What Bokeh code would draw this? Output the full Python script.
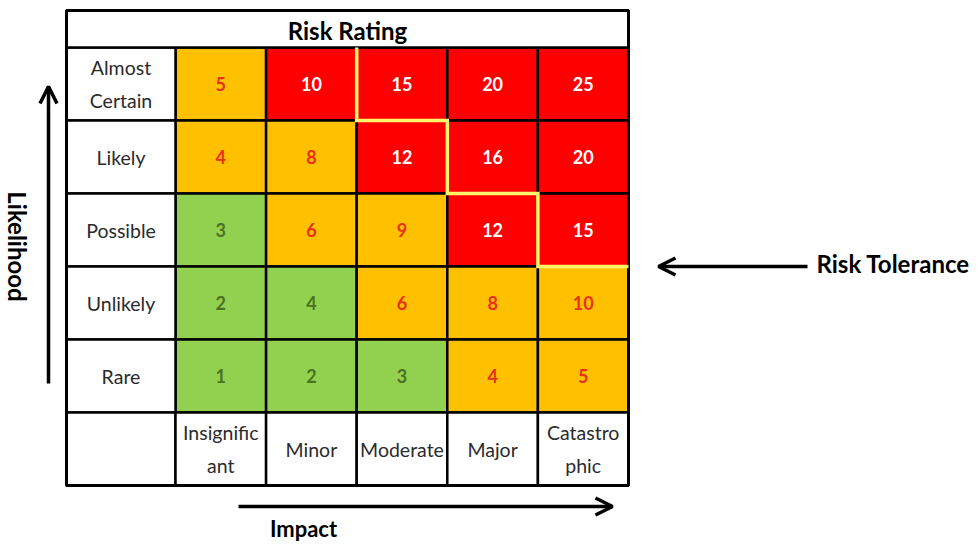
import math
from bokeh.plotting import figure
from bokeh.models import Range1d, ColumnDataSource, Arrow, OpenHead
from bokeh.core.properties import value
from bokeh.embed import file_html
from bokeh.resources import INLINE

# ---- data ---------------------------------------------------------------
likelihood = ["Almost\nCertain", "Likely", "Possible", "Unlikely", "Rare"]
impact = ["Insignific\nant", "Minor", "Moderate", "Major", "Catastro\nphic"]
ratings = [
    [5, 10, 15, 20, 25],
    [4, 8, 12, 16, 20],
    [3, 6, 9, 12, 15],
    [2, 4, 6, 8, 10],
    [1, 2, 3, 4, 5],
]
levels = [
    ["Medium", "High", "High", "High", "High"],
    ["Medium", "Medium", "High", "High", "High"],
    ["Low", "Medium", "Medium", "High", "High"],
    ["Low", "Low", "Medium", "Medium", "Medium"],
    ["Low", "Low", "Low", "Medium", "Medium"],
]
# number of likelihood rows above the tolerance line, per impact column
tolerance_rows = [0, 0, 1, 2, 3]

# ---- styling ------------------------------------------------------------
FILL = {"Low": "#92D050", "Medium": "#FFC000", "High": "#FF0000"}
INK = {"Low": "#4A7320", "Medium": "#E8311A", "High": "#FFFFFF"}
FONT = value("Lato")
LABEL_INK = "#2B2B2B"

# table geometry (screen pixels)
TABLE_L, LABEL_W, CELL_W = 66, 109, 90.6
TABLE_T, TITLE_H, ROW_H = 10, 37, 73
GRID_L = TABLE_L + LABEL_W
GRID_T = TABLE_T + TITLE_H
n_rows, n_cols = len(likelihood), len(impact)
TABLE_R = GRID_L + n_cols * CELL_W
TABLE_B = GRID_T + (n_rows + 1) * ROW_H

W, H = 978, 544
p = figure(width=W, height=H, output_backend="svg", toolbar_location=None,
           x_range=Range1d(0, W), y_range=Range1d(H, 0),
           min_border=0, outline_line_color=None)
p.axis.visible = False
p.grid.visible = False
p.background_fill_color = "white"
p.border_fill_color = "white"

# rating cells
cells = dict(left=[], right=[], top=[], bottom=[], fill=[], ink=[], x=[], y=[], txt=[])
for i in range(n_rows):
    for j in range(n_cols):
        l = GRID_L + j * CELL_W
        t = GRID_T + i * ROW_H
        cells["left"].append(l)
        cells["right"].append(l + CELL_W)
        cells["top"].append(t)
        cells["bottom"].append(t + ROW_H)
        cells["fill"].append(FILL[levels[i][j]])
        cells["ink"].append(INK[levels[i][j]])
        cells["x"].append(l + CELL_W / 2)
        cells["y"].append(t + ROW_H / 2)
        cells["txt"].append(str(ratings[i][j]))
cs = ColumnDataSource(cells)
p.quad(left="left", right="right", top="top", bottom="bottom", source=cs,
       fill_color="fill", line_color="black", line_width=2.5)
p.text(x="x", y="y", text="txt", source=cs, text_color="ink",
       text_font=FONT, text_font_style="bold", text_font_size="18px",
       text_align="center", text_baseline="middle")

# white header cells: likelihood labels (left), impact labels (bottom)
lab = dict(left=[], right=[], top=[], bottom=[], x=[], y=[], txt=[])
for i, name in enumerate(likelihood):
    t = GRID_T + i * ROW_H
    lab["left"].append(TABLE_L); lab["right"].append(GRID_L)
    lab["top"].append(t); lab["bottom"].append(t + ROW_H)
    lab["x"].append((TABLE_L + GRID_L) / 2); lab["y"].append(t + ROW_H / 2)
    lab["txt"].append(name)
bt = GRID_T + n_rows * ROW_H
lab["left"].append(TABLE_L); lab["right"].append(GRID_L)
lab["top"].append(bt); lab["bottom"].append(bt + ROW_H)
lab["x"].append((TABLE_L + GRID_L) / 2); lab["y"].append(bt + ROW_H / 2)
lab["txt"].append("")
for j, name in enumerate(impact):
    l = GRID_L + j * CELL_W
    lab["left"].append(l); lab["right"].append(l + CELL_W)
    lab["top"].append(bt); lab["bottom"].append(bt + ROW_H)
    lab["x"].append(l + CELL_W / 2); lab["y"].append(bt + ROW_H / 2)
    lab["txt"].append(name)
ls = ColumnDataSource(lab)
p.quad(left="left", right="right", top="top", bottom="bottom", source=ls,
       fill_color="white", line_color="black", line_width=2.5)
p.text(x="x", y="y", text="txt", source=ls, text_color=LABEL_INK,
       text_font=FONT, text_font_size="19.5px", text_line_height=1.42,
       text_align="center", text_baseline="middle")

# title row
p.quad(left=[TABLE_L], right=[TABLE_R], top=[TABLE_T], bottom=[GRID_T],
       fill_color="white", line_color="black", line_width=2.5)
p.text(x=[(TABLE_L + TABLE_R) / 2], y=[TABLE_T + TITLE_H / 2 + 1], text=["Risk Rating"],
       text_color="black", text_font=FONT, text_font_style="bold",
       text_font_size="24px", text_align="center", text_baseline="middle")

# outer frame
p.quad(left=[TABLE_L], right=[TABLE_R], top=[TABLE_T], bottom=[TABLE_B],
       fill_color=None, line_color="black", line_width=3)

# tolerance staircase
first = next(j for j, r in enumerate(tolerance_rows) if r > 0)
xs = [GRID_L + first * CELL_W]
ys = [GRID_T]
for j in range(first, n_cols):
    yy = GRID_T + tolerance_rows[j] * ROW_H
    xs += [GRID_L + j * CELL_W, GRID_L + (j + 1) * CELL_W]
    ys += [yy, yy]
p.line(xs, ys, line_color="#FFF56A", line_width=3.5, line_join="miter")

# arrows
def arrow(x0, y0, x1, y1):
    p.add_layout(Arrow(end=OpenHead(size=17, line_width=3.5, line_color="black"),
                       x_start=x0, y_start=y0, x_end=x1, y_end=y1,
                       line_width=3.5, line_color="black"))

arrow(48, 383, 48, 86)
arrow(238, 506, 612, 506)
tol_y = GRID_T + tolerance_rows[-1] * ROW_H
arrow(807, tol_y, 658, tol_y)

p.text(x=[17], y=[246], text=["Likelihood"], angle=-math.pi / 2,
       text_color="black", text_font=FONT, text_font_style="bold",
       text_font_size="24px", text_align="center", text_baseline="middle")
p.text(x=[303], y=[528], text=["Impact"], text_color="black", text_font=FONT,
       text_font_style="bold", text_font_size="22px",
       text_align="center", text_baseline="middle")
p.text(x=[816], y=[tol_y - 3], text=["Risk Tolerance"], text_color="black",
       text_font=FONT, text_font_style="bold", text_font_size="24px",
       text_align="left", text_baseline="middle")

open("out.html", "w").write(file_html(p, INLINE))
